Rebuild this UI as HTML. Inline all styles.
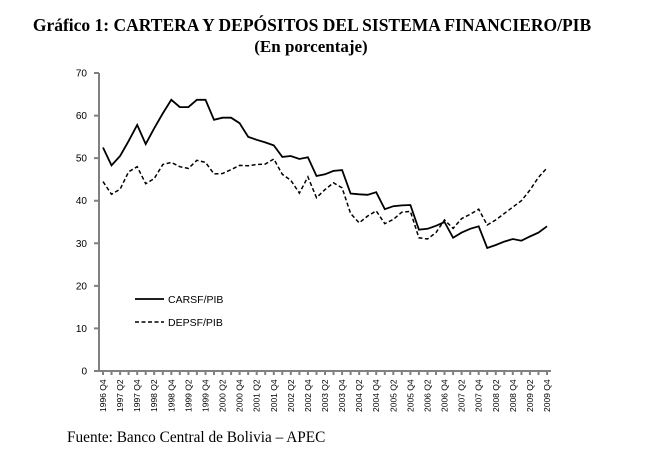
<!DOCTYPE html>
<html><head><meta charset="utf-8"><style>
body{margin:0;background:#fff;width:646px;height:460px;overflow:hidden}
svg{position:absolute;left:0;top:0}
</style></head><body>
<svg id="s" width="646" height="460" xmlns="http://www.w3.org/2000/svg">
<text x="312" y="31" text-anchor="middle" font-family="Liberation Serif" font-weight="bold" font-size="17.5">Gráfico 1: CARTERA Y DEPÓSITOS DEL SISTEMA FINANCIERO/PIB</text>
<text x="311" y="52" text-anchor="middle" font-family="Liberation Serif" font-weight="bold" font-size="17">(En porcentaje)</text>
<text x="67" y="442" font-family="Liberation Serif" font-size="15.3">Fuente: Banco Central de Bolivia – APEC</text>
<g id="ax" stroke="#808080" stroke-width="2" fill="none"></g>
<g id="yl" font-family="Liberation Sans" font-size="10" text-anchor="end" fill="#000"></g>
<g id="xl" font-family="Liberation Sans" font-size="8.5" fill="#000"></g>
<path id="c" fill="none" stroke="#000" stroke-width="1.8"/>
<path id="d" fill="none" stroke="#000" stroke-width="1.5" stroke-dasharray="4,2.5"/>
<line x1="135" y1="299" x2="164" y2="299" stroke="#000" stroke-width="1.8"/>
<line x1="135" y1="322" x2="164" y2="322" stroke="#000" stroke-width="1.5" stroke-dasharray="4,2.5"/>
<text x="168" y="303" font-family="Liberation Sans" font-size="10.5">CARSF/PIB</text>
<text x="168" y="326" font-family="Liberation Sans" font-size="10.5">DEPSF/PIB</text>
</svg>
<script>
var C=[52.5,48.3,50.5,54,57.8,53.3,57,60.5,63.7,62,62,63.7,63.7,59,59.5,59.5,58.2,55,54.3,53.7,53,50.3,50.5,49.8,50.2,45.8,46.2,47,47.2,41.7,41.5,41.4,42,38,38.7,38.9,39,33.2,33.4,34.1,35,31.3,32.5,33.4,34,28.9,29.6,30.4,31,30.6,31.6,32.5,34];
var D=[44.5,41.5,42.7,46.8,48,44,45.2,48.5,49,48,47.6,49.5,49,46.3,46.4,47.3,48.3,48.2,48.5,48.6,49.8,46.2,44.8,41.8,45.6,40.7,42.6,44.2,43,37,34.8,36.4,37.6,34.6,35.6,37.3,37.5,31.3,31,32.5,35.5,33.5,35.8,36.8,38,34.3,35.5,37,38.5,40,42.5,45.5,47.7];
var x0=103,dx=444/52,y0=371,ky=298/70;
function X(i){return x0+i*dx}function Y(v){return y0-v*ky}
function p(a){return a.map(function(v,i){return (i?'L':'M')+X(i).toFixed(1)+','+Y(v).toFixed(1)}).join('')}
document.getElementById('c').setAttribute('d',p(C));
document.getElementById('d').setAttribute('d',p(D));
var ns='http://www.w3.org/2000/svg',ax=document.getElementById('ax'),s='M99,73L99,371L'+(X(52)+4).toFixed(1)+',371';
for(var v=0;v<=70;v+=10)s+='M94,'+Y(v).toFixed(1)+'L99,'+Y(v).toFixed(1);
for(var i=0;i<=52;i++)s+='M'+X(i).toFixed(1)+',371L'+X(i).toFixed(1)+',375';
var pa=document.createElementNS(ns,'path');pa.setAttribute('d',s);ax.appendChild(pa);
var yl=document.getElementById('yl');
for(var v=0;v<=70;v+=10){var t=document.createElementNS(ns,'text');t.setAttribute('x',87);t.setAttribute('y',Y(v)+3.5);t.textContent=v;yl.appendChild(t);}
var xl=document.getElementById('xl');
for(var i=0;i<=52;i+=2){var q=i%4==0?'Q4':'Q2';var yr=1996+Math.floor((i+2)/4);var t=document.createElementNS(ns,'text');var x=X(i)+3;t.setAttribute('transform','translate('+x+',412) rotate(-90)');t.textContent=yr+' '+q;xl.appendChild(t);}
</script>
</body></html>
